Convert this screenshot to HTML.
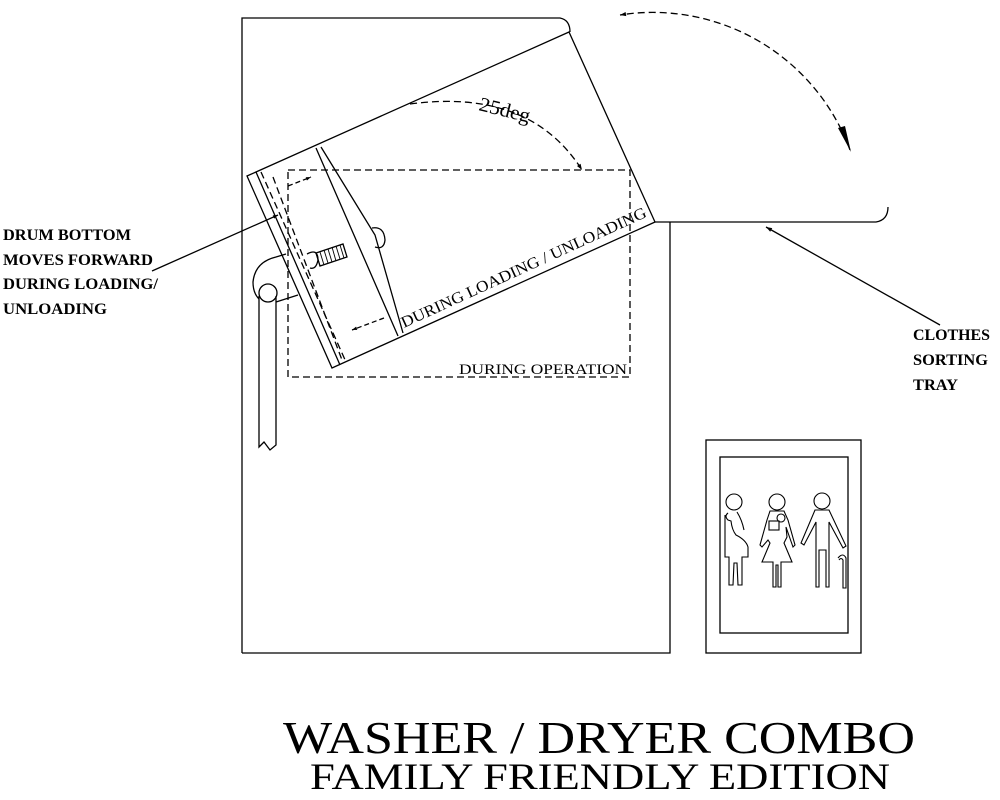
<!DOCTYPE html>
<html><head><meta charset="utf-8"><style>
html,body{margin:0;padding:0;background:#fff;}
svg{display:block;}
text{font-family:"Liberation Serif",serif;fill:#000;}
</style></head><body>
<svg width="1000" height="800" viewBox="0 0 1000 800" xmlns="http://www.w3.org/2000/svg">
<defs>
<marker id="ah" viewBox="0 0 10 10" refX="10" refY="5" markerWidth="14" markerHeight="6" markerUnits="userSpaceOnUse" orient="auto"><path d="M0,1.5 L10,5 L0,8.5 Z" fill="#000"/></marker>
<marker id="ahs" viewBox="0 0 10 10" refX="10" refY="5" markerWidth="12" markerHeight="5" markerUnits="userSpaceOnUse" orient="auto"><path d="M0,1.5 L10,5 L0,8.5 Z" fill="#000"/></marker>
</defs>
<g fill="none" stroke="#000" stroke-width="1.3">
<path d="M242,653 L242,18 L560,18 Q570,20 570,32"/>
<path d="M670,222 L670,653 L242,653"/>
<path d="M569,32 L247,176 L332,368 L655,222 Z"/>
<path d="M655,222 L876,222 Q888,220 888,207"/>
<rect x="288" y="170" width="342" height="207" stroke-dasharray="7,4"/>
<line x1="256" y1="172" x2="340" y2="365"/>
<line x1="261" y1="172" x2="346" y2="362" stroke-dasharray="7,4"/>
<line x1="273" y1="177" x2="342" y2="360" stroke-dasharray="7,4"/>
<path d="M316,148 L398,336 M321,147 L375,235 L403,333"/>
<path d="M372,228 Q384,226 385,240 Q384,250 375,247"/>
<path d="M316,253 L343,244 L347,257 L320,266 Z"/>
<g stroke-width="0.9"><line x1="320" y1="266" x2="316" y2="253"/><line x1="324" y1="265" x2="320" y2="252"/><line x1="328" y1="263" x2="324" y2="250"/><line x1="332" y1="262" x2="328" y2="249"/><line x1="336" y1="261" x2="332" y2="247"/><line x1="340" y1="259" x2="336" y2="246"/><line x1="344" y1="258" x2="340" y2="245"/></g>
<path d="M307,254 Q318,248 318,260 Q316,270 310,268"/>
<path d="M286,254 L276,257 Q255,262 253,282 Q253,293 259,299"/>
<path d="M276,302 L298,295"/>
<circle cx="268" cy="293" r="9"/>
<path d="M259,296 L259,447 L264,442 L270,450 L276,445 L276,296"/>
<line x1="288" y1="186" x2="311" y2="177" marker-end="url(#ahs)" stroke-dasharray="5,3"/>
<line x1="384" y1="318" x2="352" y2="330" marker-end="url(#ahs)" stroke-dasharray="5,3"/>
<line x1="152" y1="271" x2="278" y2="215" marker-end="url(#ahs)"/>
<line x1="940" y1="325" x2="766" y2="227" marker-end="url(#ah)"/>
<path d="M410,104 Q530,88 582,170" stroke-dasharray="7,4" marker-end="url(#ah)"/>
<path d="M850,150 A210,210 0 0 0 620,15" stroke-dasharray="7,4" marker-end="url(#ah)"/>
<path d="M838,128 L851,152 L845,126 Z" fill="#000" stroke="none"/>
<rect x="706" y="440" width="155" height="213"/>
<rect x="720" y="457" width="128" height="176"/>
<g stroke-width="1.1">
<circle cx="734" cy="502" r="8"/>
<path d="M728,513 Q724,516 728,520 L731,521 Q732,530 736,535 Q746,540 748,547 L748,557 L742,557 L742,585 L738,585 L737,563 L734,563 L733,585 L729,585 L729,557 L725,557 L725,515"/>
<path d="M737,512 Q742,520 744,530"/>
<circle cx="777" cy="502" r="8"/>
<path d="M770,511 L784,511 L788,520 L795,545 L793,547 L786,527 L787,537 L784,543 L792,562 L781,562 L781,587 L778,587 L778,565 L776,565 L776,587 L773,587 L773,562 L762,562 L770,543 L768,540 L762,547 L760,545 L767,520 Z"/>
<circle cx="781" cy="518" r="4"/>
<rect x="769" y="521" width="10" height="9"/>
<circle cx="822" cy="501" r="8"/>
<path d="M815,510 L829,510 L846,546 L843,548 L829,522 L829,587 L826,587 L826,550 L819,550 L819,587 L816,587 L816,522 L804,545 L801,543 Z"/>
<path d="M838,558 Q843,552 846,558 L846,588 L843,588 L843,560 Q841,557 839,560"/>
</g>
</g>
<g font-size="16" font-weight="bold">
<text x="3" y="240" textLength="128" lengthAdjust="spacingAndGlyphs">DRUM BOTTOM</text>
<text x="3" y="265" textLength="150" lengthAdjust="spacingAndGlyphs">MOVES FORWARD</text>
<text x="3" y="289" textLength="155" lengthAdjust="spacingAndGlyphs">DURING LOADING/</text>
<text x="3" y="314" textLength="104" lengthAdjust="spacingAndGlyphs">UNLOADING</text>
<text x="913" y="340" textLength="77" lengthAdjust="spacingAndGlyphs">CLOTHES</text>
<text x="913" y="365" textLength="75" lengthAdjust="spacingAndGlyphs">SORTING</text>
<text x="913" y="390" textLength="45" lengthAdjust="spacingAndGlyphs">TRAY</text>
</g>
<text x="459" y="374" font-size="15" textLength="168" lengthAdjust="spacingAndGlyphs">DURING OPERATION</text>
<text x="0" y="0" font-size="16" transform="translate(404,328) rotate(-24.6)" textLength="268" lengthAdjust="spacingAndGlyphs">DURING LOADING / UNLOADING</text>
<text x="0" y="0" font-size="20" transform="translate(478,110) rotate(14)" textLength="52" lengthAdjust="spacingAndGlyphs">25deg</text>
<text x="599" y="753" font-size="46" text-anchor="middle" textLength="632" lengthAdjust="spacingAndGlyphs">WASHER / DRYER COMBO</text>
<text x="600" y="789" font-size="37" text-anchor="middle" textLength="580" lengthAdjust="spacingAndGlyphs">FAMILY FRIENDLY EDITION</text>
</svg>
</body></html>
